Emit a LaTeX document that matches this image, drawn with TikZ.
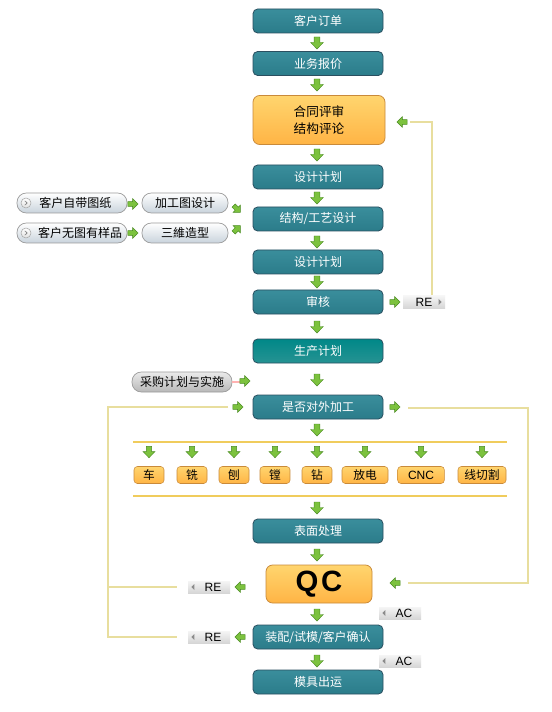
\documentclass[tikz,border=0pt]{standalone}
\usepackage{fontspec}
\setmainfont{Noto Sans CJK SC}
\newfontfamily\latf{Liberation Sans}
\begin{document}
\definecolor{tealtop}{HTML}{3A8E9C}
\definecolor{tealmid}{HTML}{1F5A7C}
\definecolor{tealbot}{HTML}{2B7C8A}
\definecolor{tealedge}{HTML}{2A4F60}
\definecolor{orgtop}{HTML}{FFD56E}
\definecolor{orgmid}{HTML}{FF9C2A}
\definecolor{orgbot}{HTML}{FFB445}
\definecolor{orgedge}{HTML}{C98A3A}
\definecolor{agreen}{HTML}{7CC23E}
\definecolor{agreenD}{HTML}{4A8A22}
\definecolor{fbline}{HTML}{E8DE9E}
\definecolor{barline}{HTML}{F0CC5C}
\definecolor{pillbot}{HTML}{C9D3DC}
\definecolor{pilledge}{HTML}{9A9A9A}
\begin{tikzpicture}[x=0.75pt,y=-0.75pt,
  tbox/.style={rounded corners=3.5pt, minimum width=97.5pt, minimum height=18pt, inner sep=0pt,
    top color=tealtop, middle color=tealmid, bottom color=tealbot, draw=tealedge, line width=0.6pt,
    text=white, font=\fontsize{9}{10}\selectfont},
  obox/.style={rounded corners=5pt, inner sep=0pt,
    top color=orgtop, middle color=orgmid, bottom color=orgbot, draw=orgedge, line width=0.6pt,
    text=black, align=center},
  pbox/.style={rounded corners=2.5pt, minimum height=12.75pt, inner sep=0pt,
    top color=orgtop, middle color=orgmid, bottom color=orgbot, draw=orgedge, line width=0.4pt,
    text=black, font=\fontsize{8.8}{9}\selectfont},
  pill/.style={rounded corners=7pt, minimum height=15pt, inner sep=0pt,
    top color=white, bottom color=pillbot, draw=pilledge, line width=0.5pt,
    text=black, font=\fontsize{9}{10}\selectfont},
  tag/.style={minimum width=31.5pt, minimum height=9pt, inner sep=0pt,
    top color=white!96!black, bottom color=white!84!black,
    text=black, font=\latf\fontsize{9}{10}\selectfont},
  tri/.style={fill=black!45},
  fb/.style={draw=fbline, line width=0.8pt},
  bar/.style={draw=barline, line width=1.5pt},
  garrow/.pic={\path[fill=agreen, draw=agreenD, line width=0.35pt]
     (-2.8,-6) -- (2.8,-6) -- (2.8,-0.5) -- (6.3,-0.5) -- (0,6) -- (-6.3,-0.5) -- (-2.8,-0.5) -- cycle;}
]
\useasboundingbox (0,0) rectangle (551,712);
\fill[white] (0,0) rectangle (551,712);

% ---- feedback lines ----
\coordinate (fbA) at (432,296);
\coordinate (fbB) at (410,122);
\draw[fb] (fbA) |- (fbB);
\coordinate (lA) at (228,407);
\coordinate (lB) at (177,587);
\coordinate (lC) at (177,637);
\draw[fb] (lA) -| (108,637) -- (lC);
\draw[fb] (108,587) -- (lB);
\coordinate (rA) at (408,408);
\coordinate (rB) at (408,583);
\draw[fb] (rA) -| (528,583) -- (rB);

% ---- main column ----
\node[tbox] (n1) at (318,21) {客户订单};
\node[tbox] (n2) at (318,63.5) {业务报价};
\node[obox, minimum width=99pt, minimum height=36.75pt, font=\fontsize{9.5}{13}\selectfont] (n3) at (319,120) {合同评审\\结构评论};
\node[tbox] (n4) at (318,177) {设计计划};
\node[tbox] (n5) at (318,219) {结构/工艺设计};
\node[tbox] (n6) at (318,262) {设计计划};
\node[tbox] (n7) at (318,302) {审核};
\node[tbox, top color=black!10!teal!85!cyan, middle color=teal!80!black, bottom color=teal!85] (n8) at (318,351) {生产计划};
\node[tbox] (n9) at (318,407) {是否对外加工};
\node[tbox] (n10) at (318,531) {表面处理};
\node[obox, minimum width=79.5pt, minimum height=28.5pt, font=\latf\fontsize{22}{24}\selectfont\bfseries] (qc) at (319,584) {Q\hspace{2pt}C};
\node[tbox] (n11) at (318,637) {装配/试模/客户确认};
\node[tbox] (n12) at (318,682) {模具出运};

% ---- bars and process boxes ----
\coordinate (barL1) at (133,442);
\coordinate (barR1) at (507,442);
\coordinate (barL2) at (133,496);
\coordinate (barR2) at (507,496);
\draw[bar] (barL1) -- (barR1);
\draw[bar] (barL2) -- (barR2);
\node[pbox, minimum width=22.5pt] (m1) at (149,475) {车};
\node[pbox, minimum width=22.5pt] (m2) at (192,475) {铣};
\node[pbox, minimum width=22.5pt] (m3) at (234,475) {刨};
\node[pbox, minimum width=22.5pt] (m4) at (275,475) {镗};
\node[pbox, minimum width=22.5pt] (m5) at (317,475) {钻};
\node[pbox, minimum width=34.5pt] (m6) at (365,475) {放电};
\node[pbox, minimum width=35pt, font=\latf\fontsize{9}{10}\selectfont] (m7) at (421,475) {CNC};
\node[pbox, minimum width=36pt] (m8) at (482,475) {线切割};

% ---- left inputs ----
\node[pill, minimum width=82.5pt] (p1) at (72,203) {\hspace{5pt}客户自带图纸};
\node[pill, minimum width=82.5pt] (p2) at (72,233) {\hspace{12pt}客户无图有样品};
\node[pill, minimum width=64.5pt] (p3) at (185,203) {加工图设计};
\node[pill, minimum width=64.5pt] (p4) at (185,233) {三維造型};
\node[pill, minimum width=75pt, top color=white!92!black, bottom color=white!72!black] (p5) at (182,382) {采购计划与实施};
\foreach \p in {p1,p2}{
  \node[circle, minimum size=7.5pt, inner sep=0pt, draw=black!35, top color=white, bottom color=black!12, line width=0.4pt] (c\p) at ([xshift=7pt]\p.west) {};
  \draw[black!50, line width=0.5pt] ([xshift=-0.9pt,yshift=1.6pt]c\p.center) -- ([xshift=0.9pt]c\p.center) -- ([xshift=-0.9pt,yshift=-1.6pt]c\p.center);
}
\draw[red!30, line width=0.8pt] (p5.east) -- ++(8,0);

% ---- tags ----
\node[tag] (re1) at (424,302) {RE\hspace{6pt}};
\fill[tri] ([xshift=-5pt]re1.east) ++(0,-3) -- ++(3,3) -- ++(-3,3) -- cycle;
\node[tag] (re2) at (209,587) {\hspace{6pt}RE};
\fill[tri] ([xshift=5pt]re2.west) ++(0,-3) -- ++(-3,3) -- ++(3,3) -- cycle;
\node[tag] (re3) at (209,637) {\hspace{6pt}RE};
\fill[tri] ([xshift=5pt]re3.west) ++(0,-3) -- ++(-3,3) -- ++(3,3) -- cycle;
\node[tag] (ac1) at (400,613) {\hspace{6pt}AC};
\fill[tri] ([xshift=5pt]ac1.west) ++(0,-3) -- ++(-3,3) -- ++(3,3) -- cycle;
\node[tag] (ac2) at (400,661) {\hspace{6pt}AC};
\fill[tri] ([xshift=5pt]ac2.west) ++(0,-3) -- ++(-3,3) -- ++(3,3) -- cycle;

% ---- green arrows ----
\foreach \y in {43,85,155,198,242,282,327,380,430,508,555,615,661}
  \pic at (317,\y) {garrow};
\foreach \x in {149,192,234,275,317,365,421,482}
  \pic[scale=0.95] at (\x,452) {garrow};
\foreach \x/\y in {133/204,133/233,245/381,238/407,395/407,395/302}
  \pic[rotate=90, scale=0.85] at (\x,\y) {garrow};
\foreach \x/\y in {402/122,395/583,240/587,240/637}
  \pic[rotate=-90, scale=0.85] at (\x,\y) {garrow};
\pic[rotate=45, scale=0.8] at (237,209) {garrow};
\pic[rotate=135, scale=0.8] at (237,229) {garrow};
\end{tikzpicture}
\end{document}
